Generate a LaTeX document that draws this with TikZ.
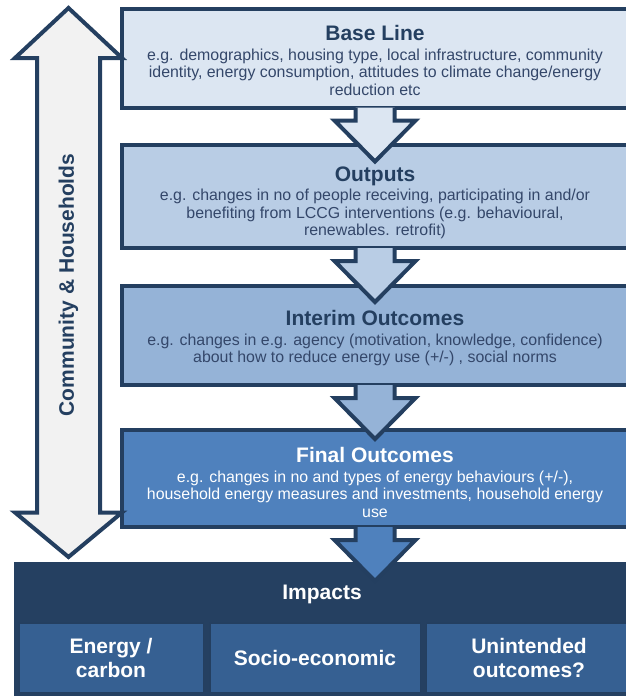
\documentclass[tikz,border=0pt]{standalone}
\usepackage{fontspec}
\setmainfont{Liberation Sans}
\usetikzlibrary{calc}

\definecolor{navyline}{HTML}{243F60}
\definecolor{basefill}{HTML}{DCE6F2}
\definecolor{outputfill}{HTML}{B9CDE5}
\definecolor{interimfill}{HTML}{95B3D7}
\definecolor{finalfill}{HTML}{4F81BD}
\definecolor{impactfill}{HTML}{254061}
\definecolor{subfill}{HTML}{366092}
\definecolor{sidefill}{HTML}{F2F2F2}
\definecolor{bodytext}{HTML}{34476A}

\newcommand{\titlefont}{\fontsize{21}{21}\selectfont\bfseries}
\newcommand{\bodyfont}{\fontsize{15.9}{17.6}\selectfont}
\newcommand{\subfont}{\fontsize{21}{24}\selectfont\bfseries}

\tikzset{
  stagebox/.style={draw=navyline, line width=4pt, minimum width=506pt, inner sep=0pt},
  stagetext/.style={anchor=north, inner sep=0pt, align=center, font=\bodyfont, text=bodytext},
  subbox/.style={draw=navyline, line width=1.5pt, fill=subfill, minimum height=69.5pt,
    inner sep=0pt, align=center, text=white, font=\subfont},
  flowline/.style={draw=navyline, line width=4pt, line join=miter},
}

% block arrow from one box down into the next one
\newcommand{\flowarrow}[3]{%
  \path (#1.south) coordinate (ft) (#1.south |- #2.north) coordinate (fb);%
  \filldraw[fill=#3, flowline] ($(ft)+(-19.5,-2)$) -- ($(ft)+(-19.5,11)$) -- ($(ft)+(-40.5,11)$)
    -- ($(ft)!52pt!(fb)$) -- ($(ft)+(40.5,11)$) -- ($(ft)+(19.5,11)$) -- ($(ft)+(19.5,-2)$);%
}

\begin{document}
\begin{tikzpicture}[x=1pt, y=-1pt]
\useasboundingbox (0,0) rectangle (626,696);
\clip (0,0) rectangle (626,696);

% Drawing the four stage boxes
\node[stagebox, fill=basefill, minimum height=98.5pt] (base) at (375,58.25) {};%
\node[stagebox, fill=outputfill, minimum height=103pt] (outputs) at (375,196.5) {};%
\node[stagebox, fill=interimfill, minimum height=99pt] (interim) at (375,335.5) {};%
\node[stagebox, fill=finalfill, minimum height=97pt] (final) at (375,478.5) {};%

% Drawing the impacts block
\node[fill=impactfill, minimum width=616pt, minimum height=138.5pt, inner sep=0pt] (impacts) at (322,630.75) {};%
\node[anchor=base, font=\titlefont, text=white] (impactstitle) at (322,599) {Impacts};%
\node[subbox, minimum width=184.5pt] (energy) at (111,657.5) {Energy /\\carbon};%
\node[subbox, minimum width=210.5pt] (socio) at (315,657.5) {Socio-economic};%
\node[subbox, minimum width=205pt] (unintended) at (529,657.5) {Unintended\\outcomes?};%

% Texts of the stage boxes
\node[stagetext] (basetext) at (375,24.7) {{\titlefont\color{navyline}Base Line}\\[2.4pt]
  e.g. demographics, housing type, local infrastructure, community\\
  identity, energy consumption, attitudes to climate change/energy\\
  reduction etc};%
\node[stagetext] (outputstext) at (375,166.4) {{\titlefont\color{navyline}Outputs}\\[1.7pt]
  e.g. changes in no of people receiving, participating in and/or\\
  benefiting from LCCG interventions (e.g. behavioural,\\
  renewables. retrofit)};%
\node[stagetext] (interimtext) at (375,309.7) {{\titlefont\color{navyline}Interim Outcomes}\\[2.4pt]
  e.g. changes in e.g. agency (motivation, knowledge, confidence)\\
  about how to reduce energy use (+/-) , social norms};%
\node[stagetext, text=white] (finaltext) at (375,446.7) {{\titlefont Final Outcomes}\\[2.4pt]
  e.g. changes in no and types of energy behaviours (+/-),\\
  household energy measures and investments, household energy\\
  use};%

% Drawing the arrows between the boxes
\flowarrow{base}{outputs}{basefill}
\flowarrow{outputs}{interim}{outputfill}
\flowarrow{interim}{final}{interimfill}
\flowarrow{final}{impacts}{finalfill}

% Drawing the double arrow on the left
\filldraw[fill=sidefill, flowline] (68.5,8) -- (122,58) -- (100,58) -- (100,512.5) -- (122,512.5)
  -- (68.5,557) -- (15,512.5) -- (37,512.5) -- (37,58) -- (15,58) -- cycle;%
\node[rotate=90, font=\titlefont, text=navyline] (community) at (68.5,285) {Community \& Households};%
\end{tikzpicture}
\end{document}
